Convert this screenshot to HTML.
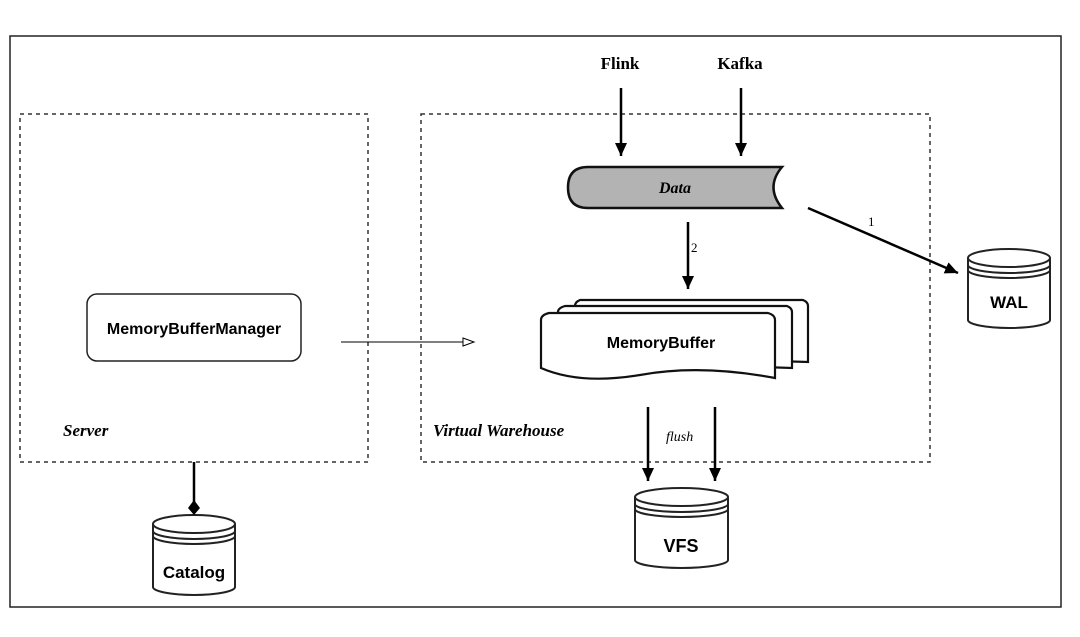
<!DOCTYPE html>
<html><head><meta charset="utf-8"><style>
html,body{margin:0;padding:0;background:#fff;}
svg{display:block;}
.s{font-family:"Liberation Sans",sans-serif;font-weight:bold;}
.r{font-family:"Liberation Serif",serif;font-weight:bold;font-style:italic;}
</style></head><body>
<svg width="1080" height="637" viewBox="0 0 1080 637" xmlns="http://www.w3.org/2000/svg">
<defs>
<marker id="ah2" markerWidth="14" markerHeight="14" refX="13" refY="6" orient="auto" markerUnits="userSpaceOnUse">
<path d="M0,0 L13,6 L0,12 Z" fill="#000"/></marker>
<marker id="open" markerWidth="14" markerHeight="12" refX="12" refY="5" orient="auto" markerUnits="userSpaceOnUse">
<path d="M1,1 L12,5 L1,9 Z" fill="#fff" stroke="#000" stroke-width="1"/></marker>
</defs>
<rect x="0" y="0" width="1080" height="637" fill="#fff"/>
<rect x="10" y="36" width="1051" height="571" fill="none" stroke="#222" stroke-width="1.5"/>
<rect x="20" y="114" width="348" height="348" fill="none" stroke="#333" stroke-width="1.5" stroke-dasharray="4,4"/>
<rect x="421" y="114" width="509" height="348" fill="none" stroke="#333" stroke-width="1.5" stroke-dasharray="4,4"/>

<text x="620" y="69" class="r" font-size="17" text-anchor="middle" style="font-style:normal">Flink</text>
<text x="740" y="69" class="r" font-size="17" text-anchor="middle" style="font-style:normal">Kafka</text>
<line x1="621" y1="88" x2="621" y2="156" stroke="#000" stroke-width="2.5" marker-end="url(#ah2)"/>
<line x1="741" y1="88" x2="741" y2="156" stroke="#000" stroke-width="2.5" marker-end="url(#ah2)"/>

<path d="M588,167 L782,167 Q765,187 782,208 L588,208 Q568,208 568,187.5 Q568,167 588,167 Z" fill="#b3b3b3" stroke="#111" stroke-width="2.5"/>
<text x="675" y="193" class="r" font-size="16" text-anchor="middle">Data</text>

<line x1="688" y1="222" x2="688" y2="289" stroke="#000" stroke-width="2.5" marker-end="url(#ah2)"/>
<text x="691" y="252" font-family="Liberation Serif,serif" font-size="13">2</text>

<line x1="808" y1="208" x2="958" y2="273" stroke="#000" stroke-width="2.5" marker-end="url(#ah2)"/>
<text x="868" y="226" font-family="Liberation Serif,serif" font-size="13">1</text>

<g stroke="#111" stroke-width="2.2" fill="#fff">
<path d="M580,300 Q575,302 575,306 L575,355 L808,362 L808,306 Q808,302 803,300 Z"/>
<path d="M565,306 Q558,308 558,312 L558,360 L792,368 L792,312 Q792,308 787,306 Z"/>
<path d="M549,313 Q541,315 541,320 L541,368 Q580,385 640,375 Q700,364 775,378 L775,320 Q775,315 768,313 Z"/>
</g>
<text x="661" y="348" class="s" font-size="16" text-anchor="middle">MemoryBuffer</text>

<rect x="87" y="294" width="214" height="67" rx="10" fill="#fff" stroke="#222" stroke-width="1.5"/>
<text x="194" y="334" class="s" font-size="16" text-anchor="middle">MemoryBufferManager</text>
<line x1="341" y1="342" x2="474" y2="342" stroke="#000" stroke-width="1" marker-end="url(#open)"/>

<text x="63" y="436" class="r" font-size="17">Server</text>
<text x="433" y="436" class="r" font-size="17">Virtual Warehouse</text>

<line x1="648" y1="407" x2="648" y2="481" stroke="#000" stroke-width="2.5" marker-end="url(#ah2)"/>
<line x1="715" y1="407" x2="715" y2="481" stroke="#000" stroke-width="2.5" marker-end="url(#ah2)"/>
<text x="666" y="441" font-family="Liberation Serif,serif" font-style="italic" font-size="14">flush</text>

<g fill="#fff" stroke="#222" stroke-width="2">
<path d="M968,258 L968,320 A41,8 0 0 0 1050,320 L1050,258"/>
<ellipse cx="1009" cy="258" rx="41" ry="9"/>
<path d="M968,265 A41,8 0 0 0 1050,265 M968,270 A41,8 0 0 0 1050,270" fill="none"/>
<path d="M635,497 L635,560 A46.5,8 0 0 0 728,560 L728,497"/>
<ellipse cx="681.5" cy="497" rx="46.5" ry="9"/>
<path d="M635,504 A46.5,8 0 0 0 728,504 M635,509 A46.5,8 0 0 0 728,509" fill="none"/>
<path d="M153,524 L153,587 A41,8 0 0 0 235,587 L235,524"/>
<ellipse cx="194" cy="524" rx="41" ry="9"/>
<path d="M153,531 A41,8 0 0 0 235,531 M153,536 A41,8 0 0 0 235,536" fill="none"/>
</g>
<text x="1009" y="308" class="s" font-size="17" text-anchor="middle">WAL</text>
<text x="681" y="552" class="s" font-size="18" text-anchor="middle">VFS</text>
<text x="194" y="578" class="s" font-size="17" text-anchor="middle">Catalog</text>

<line x1="194" y1="462" x2="194" y2="502" stroke="#000" stroke-width="2.5"/>
<path d="M194,500 L200,508 L194,515 L188,508 Z" fill="#000"/>
</svg>
</body></html>
